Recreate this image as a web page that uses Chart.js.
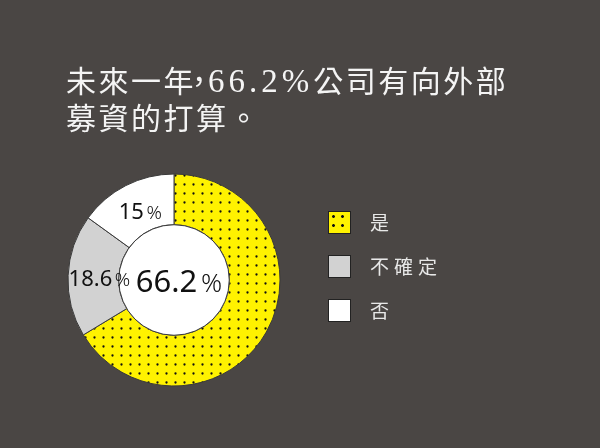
<!DOCTYPE html>
<html><head><meta charset="utf-8">
<script src="https://cdn.jsdelivr.net/npm/chart.js@4/dist/chart.umd.min.js"></script>
<style>
html,body{margin:0;padding:0;background:#4a4644;}
#wrap{position:relative;width:600px;height:448px;overflow:hidden;background:#4a4644;}
#title{position:absolute;left:66px;top:62px;color:#f4f4f4;font-family:"Noto Sans CJK TC",sans-serif;font-size:30px;line-height:35px;letter-spacing:2.5px;white-space:nowrap;}
#title .num{font-family:"Liberation Serif",serif;font-size:33px;letter-spacing:4px;}
#title .cm{display:inline-block;width:18px;overflow:visible;margin-left:-6px;letter-spacing:0;position:relative;left:-6px;}
#legend{position:absolute;left:328px;top:211px;font-family:"Noto Sans CJK TC","Noto Sans",sans-serif;color:#e8e8e8;font-size:19px;}
.item{position:absolute;left:0;height:23px;width:200px;}
.sw{position:absolute;left:0;top:0;width:21px;height:21px;border:1px solid #222;}
.lb{position:absolute;left:42px;top:-1px;line-height:24px;letter-spacing:5px;}
canvas{position:absolute;left:0;top:0;}
</style></head>
<body><div id="wrap">
<canvas id="c" width="600" height="448"></canvas>
<div id="title">未來一年<span class="cm">，</span><span class="num">66.2%</span>公司有向外部<br>募資的打算。</div>
<div id="legend"></div>
</div>
<script>
const categories = ["是", "不確定", "否"];
const values = [66.2, 18.6, 15];
const valueLabels = ["66.2", "18.6", "15"];
const colors = ["#fff200", "#d2d2d2", "#ffffff"];

function dotPattern(bg) {
  const t = document.createElement('canvas');
  t.width = 9; t.height = 9;
  const g = t.getContext('2d');
  g.fillStyle = bg; g.fillRect(0, 0, 9, 9);
  g.fillStyle = '#111';
  g.beginPath(); g.arc(4.5, 4.5, 1.15, 0, Math.PI * 2); g.fill();
  return t;
}
const patCanvas = dotPattern(colors[0]);
const ctx = document.getElementById('c').getContext('2d');
const fills = [ctx.createPattern(patCanvas, 'repeat'), colors[1], colors[2]];

// legend
const leg = document.getElementById('legend');
categories.forEach((c, i) => {
  const it = document.createElement('div');
  it.className = 'item'; it.style.top = (i * 44) + 'px';
  const sw = document.createElement('div'); sw.className = 'sw';
  if (i === 0) {
    sw.style.background = 'radial-gradient(circle, #111 1.2px, transparent 1.6px) 0 0/9px 9px, ' + colors[0];
  } else sw.style.background = colors[i];
  const lb = document.createElement('div'); lb.className = 'lb'; lb.textContent = c;
  it.appendChild(sw); it.appendChild(lb); leg.appendChild(it);
});

const innerPlugin = {
  id: 'inner',
  afterDatasetsDraw(chart) {
    const meta = chart.getDatasetMeta(0);
    const arc = meta.data[0];
    const g = chart.ctx;
    g.save();
    g.beginPath();
    g.arc(arc.x, arc.y, arc.innerRadius, 0, Math.PI * 2);
    g.fillStyle = '#ffffff'; g.fill();
    g.lineWidth = 1; g.strokeStyle = '#3a3a3a'; g.stroke();
    // labels
    g.fillStyle = '#111';
    g.textBaseline = 'middle';
    meta.data.forEach((a, i) => {
      let x, y, size;
      if (i === 0) { x = a.x + 5; y = a.y + 3; size = 31; }
      else {
        const p = a.tooltipPosition();
        x = p.x + (i === 1 ? 6 : 3); y = p.y + (i === 1 ? 3 : 5); size = 22;
      }
      const num = valueLabels[i];
      g.font = size + 'px "Noto Sans", sans-serif';
      const w1 = g.measureText(num).width;
      const ps = Math.round(size * 0.85);
      g.font = '300 ' + ps + 'px "Noto Sans", sans-serif';
      const w2 = g.measureText('%').width;
      const gap = size * 0.12;
      const start = x - (w1 + gap + w2) / 2;
      g.textAlign = 'left';
      g.font = size + 'px "Noto Sans", sans-serif';
      g.fillText(num, start, y);
      g.font = '300 ' + ps + 'px "Noto Sans", sans-serif';
      g.fillText('%', start + w1 + gap, y + size * 0.04);
    });
    g.restore();
  }
};

new Chart(ctx, {
  type: 'doughnut',
  data: {
    labels: categories,
    datasets: [{
      data: values,
      backgroundColor: fills,
      borderColor: '#3a3a3a',
      borderWidth: 1,
      hoverOffset: 0,
      offset: 0
    }]
  },
  options: {
    responsive: false,
    animation: false,
    cutout: 55,
    radius: 106,
    layout: { padding: { left: 68, right: 320, top: 174, bottom: 62 } },
    plugins: { legend: { display: false }, tooltip: { enabled: false }, title: { display: false } },
    events: []
  },
  plugins: [innerPlugin]
});
</script>
</body></html>
